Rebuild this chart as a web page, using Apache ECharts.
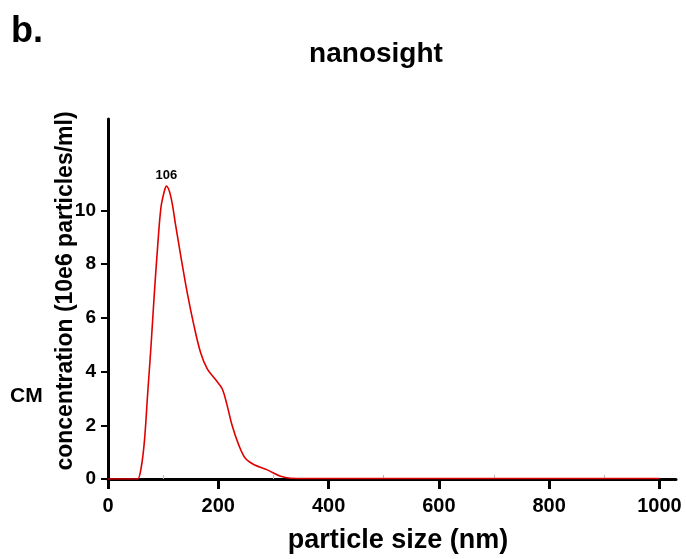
<!DOCTYPE html>
<html>
<head>
<meta charset="utf-8">
<script src="https://cdn.jsdelivr.net/npm/echarts@6/dist/echarts.min.js"></script>
<style>
  html, body { margin: 0; padding: 0; background: #fff; }
  #chart { width: 686px; height: 559px; }
</style>
</head>
<body>
<div id="chart"></div>
<script>
// particle size distribution (nanosight)
const sizes = [0, 50, 54, 60, 66, 72, 78, 84, 90, 96, 102, 106, 114, 123, 132, 144, 156, 168, 180, 195, 207, 216, 225, 237, 249, 265, 289, 313, 331, 360, 450, 600, 800, 1000];
const concentration = [0, 0, 0, 0.4, 1.4, 3.2, 4.95, 6.9, 8.65, 10.1, 10.7, 10.9, 10.5, 9.4, 8.3, 6.9, 5.7, 4.7, 4.1, 3.7, 3.36, 2.74, 2.0, 1.27, 0.77, 0.53, 0.34, 0.1, 0.03, 0.02, 0.02, 0.02, 0.02, 0.02];
const xTicks = [0, 200, 400, 600, 800, 1000];
const xMinorTicks = [100, 300, 500, 700, 900];
const yTicks = [0, 2, 4, 6, 8, 10];
const peakSize = 106;
const peakValue = 10.9;

const font = 'Liberation Sans, Arial, sans-serif';
const chart = echarts.init(document.getElementById('chart'));

const option = {
    animation: false,
    title: [
        { text: 'b.', left: 11, top: 14, padding: 0, textStyle: { fontFamily: font, fontSize: 36, fontWeight: 'bold', color: '#000' } },
        { text: 'nanosight', left: 376, top: 40, padding: 0, textAlign: 'center', textStyle: { fontFamily: font, fontSize: 28, fontWeight: 'bold', color: '#000' } },
        { text: 'CM', left: 10, top: 386, padding: 0, textStyle: { fontFamily: font, fontSize: 21, fontWeight: 'bold', color: '#000' } }
    ],
    grid: { left: 108, right: 10, top: 119, bottom: 77 },
    xAxis: [{
        type: 'value',
        min: 0,
        max: 1030,
        name: 'particle size (nm)',
        nameLocation: 'middle',
        nameGap: 48,
        nameMoveOverlap: false,
        nameTextStyle: { fontFamily: font, fontSize: 27, fontWeight: 'bold', color: '#000', padding: [0, 0, 0, 12] },
        axisLine: { lineStyle: { color: '#000', width: 3 } },
        axisTick: { customValues: xTicks, length: 10, lineStyle: { color: '#000', width: 3 } },
        axisLabel: { customValues: xTicks, margin: 17, formatter: v => String(v), fontFamily: font, fontSize: 20, fontWeight: 'bold', color: '#000' },
        splitLine: { show: false }
    }, {
        type: 'value',
        min: 0,
        max: 1030,
        position: 'bottom',
        axisLine: { show: false },
        axisTick: { inside: true, customValues: xMinorTicks, length: 4, lineStyle: { color: '#bbb', width: 1 } },
        axisLabel: { show: false },
        splitLine: { show: false }
    }],
    yAxis: {
        type: 'value',
        min: 0,
        max: 13.4,
        name: 'concentration (10e6 particles/ml)',
        nameLocation: 'middle',
        nameGap: 31,
        nameMoveOverlap: false,
        nameTextStyle: { fontFamily: font, fontSize: 23, fontWeight: 'bold', color: '#000', padding: [0, 0, 0, 16] },
        axisLine: { show: true, lineStyle: { color: '#000', width: 3 } },
        axisTick: { show: true, customValues: yTicks, length: 7, lineStyle: { color: '#000', width: 2 } },
        axisLabel: { customValues: yTicks, margin: 12, fontFamily: font, fontSize: 19, fontWeight: 'bold', color: '#000' },
        splitLine: { show: false }
    },
    series: [{
        type: 'line',
        data: sizes.map((s, i) => [s, concentration[i]]),
        smooth: 0.35,
        symbol: 'none',
        lineStyle: { color: '#e00000', width: 1.6 },
        z: 1,
        markPoint: {
            symbol: 'circle',
            symbolSize: 0,
            data: [{ coord: [peakSize, peakValue], value: String(peakSize) }],
            label: { show: true, position: 'top', distance: 4, fontFamily: font, fontSize: 13, fontWeight: 'bold', color: '#000' }
        }
    }]
};

chart.setOption(option);
window.addEventListener('resize', () => chart.resize());
</script>
</body>
</html>
